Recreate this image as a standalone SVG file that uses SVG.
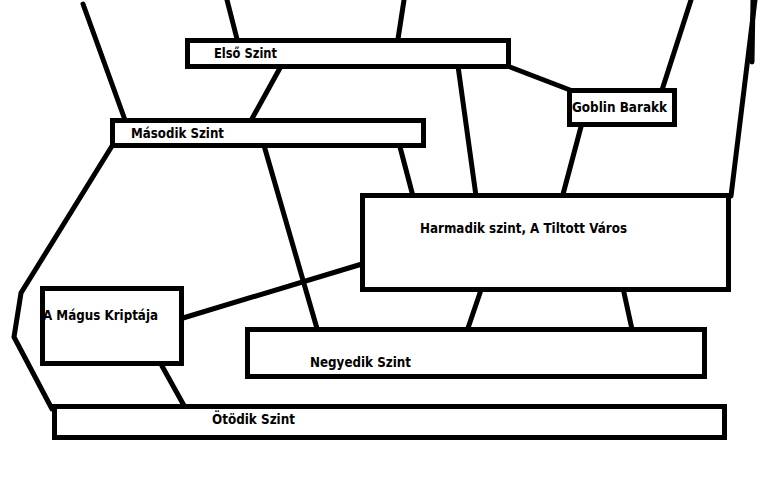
<svg xmlns="http://www.w3.org/2000/svg" width="768" height="480" viewBox="0 0 768 480">
<style>
.box{fill:#fff;stroke:#000;stroke-width:5}
.c{fill:none;stroke:#000;stroke-width:5;stroke-linecap:round;stroke-linejoin:miter}
text{font-family:"DejaVu Sans","Liberation Sans",sans-serif;font-weight:bold;font-size:13.5px;fill:#000}
</style>
<rect width="768" height="480" fill="#fff"/>
<g id="connectors">
<line class="c" x1="83" y1="4" x2="125" y2="120"/>
<line class="c" x1="227" y1="0" x2="237" y2="39"/>
<line class="c" x1="280" y1="68" x2="248" y2="126"/>
<line class="c" x1="404" y1="0" x2="398" y2="39"/>
<line class="c" x1="510" y1="67" x2="570" y2="90"/>
<line class="c" x1="458" y1="66" x2="476" y2="196"/>
<line class="c" x1="582" y1="123" x2="562" y2="198"/>
<line class="c" x1="691" y1="0" x2="662" y2="90"/>
<line class="c" x1="755" y1="0" x2="731" y2="196"/>
<line class="c" x1="753" y1="0" x2="752" y2="62"/>
<line class="c" x1="400" y1="147" x2="414" y2="200"/>
<line class="c" x1="263" y1="142" x2="318" y2="332"/>
<polyline class="c" points="112,146 21,293 14,337 52,409"/>
<line class="c" x1="362" y1="264" x2="183" y2="318"/>
<line class="c" x1="162" y1="366" x2="187" y2="411"/>
<line class="c" x1="482" y1="287" x2="467" y2="331"/>
<line class="c" x1="623" y1="288" x2="633" y2="334"/>
</g>
<g id="elso">
<rect class="box" x="187.5" y="40.5" width="321" height="26"/>
<text x="214" y="58" textLength="63" lengthAdjust="spacingAndGlyphs">Első Szint</text>
</g>
<g id="masodik">
<rect class="box" x="112.5" y="120.5" width="311" height="25"/>
<text x="131" y="137.5" textLength="93" lengthAdjust="spacingAndGlyphs">Második Szint</text>
</g>
<g id="goblin">
<rect class="box" x="569.5" y="90.5" width="105" height="34"/>
<text x="572" y="111.5" textLength="95" lengthAdjust="spacingAndGlyphs">Goblin Barakk</text>
</g>
<g id="harmadik">
<rect class="box" x="362.5" y="195.5" width="366" height="94"/>
<text x="420" y="233" textLength="207" lengthAdjust="spacingAndGlyphs">Harmadik szint, A Tiltott Város</text>
</g>
<g id="kripta">
<rect class="box" x="42.5" y="288.5" width="139" height="75"/>
<text x="43" y="320" textLength="115" lengthAdjust="spacingAndGlyphs">A Mágus Kriptája</text>
</g>
<g id="negyedik">
<rect class="box" x="247.5" y="329.5" width="457" height="47"/>
<text x="310" y="367" textLength="101" lengthAdjust="spacingAndGlyphs">Negyedik Szint</text>
</g>
<g id="otodik">
<rect class="box" x="54.5" y="406.5" width="670" height="31"/>
<text x="212" y="424" textLength="83" lengthAdjust="spacingAndGlyphs">Ötödik Szint</text>
</g>
</svg>
